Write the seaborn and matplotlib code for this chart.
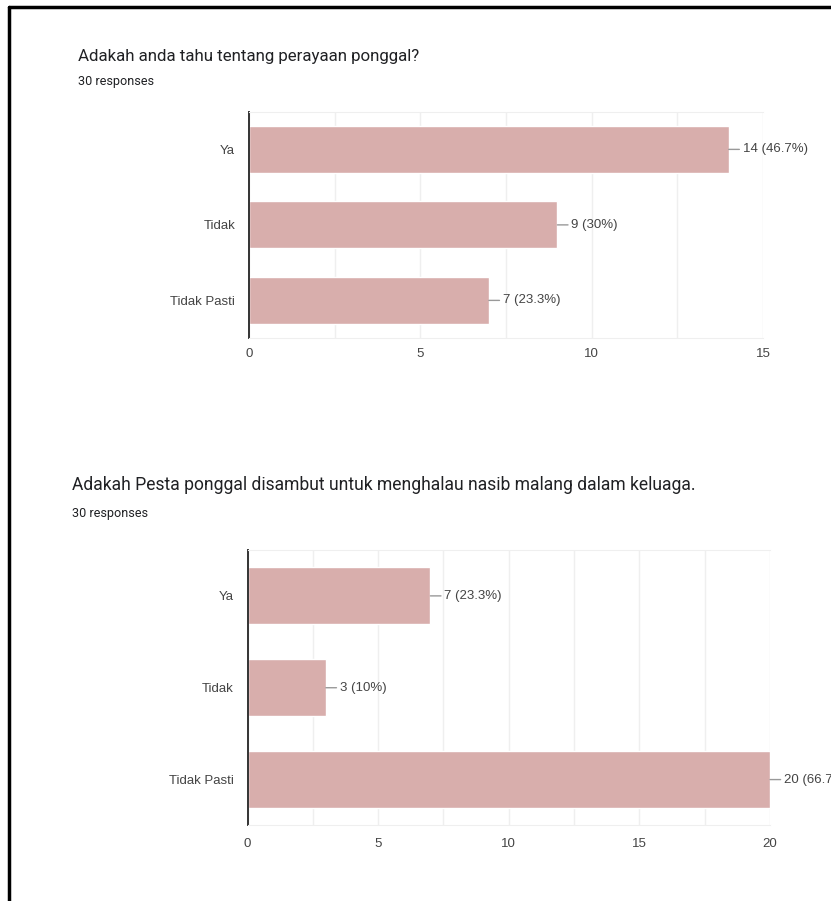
import pandas as pd
import seaborn as sns
import matplotlib.pyplot as plt
from matplotlib.lines import Line2D

# data
categories = ["Ya", "Tidak", "Tidak Pasti"]
counts_q1 = [14, 9, 7]
pct_q1 = ["46.7%", "30%", "23.3%"]
counts_q2 = [7, 3, 20]
pct_q2 = ["23.3%", "10%", "66.7%"]

title_q1 = "Adakah anda tahu tentang perayaan ponggal?"
title_q2 = "Adakah Pesta ponggal disambut untuk menghalau nasib malang dalam keluaga."
n_responses = 30

bar_color = "#d8aeac"
tick_font = ["Liberation Sans", "DejaVu Sans"]
title_font = ["Roboto", "DejaVu Sans"]

sns.set_style("white")
plt.rcParams["font.family"] = tick_font

fig = plt.figure(figsize=(8.31, 9.01), dpi=100)


def draw_chart(rect, counts, pcts, xmax, xpad):
    ax = fig.add_axes(rect)
    df = pd.DataFrame({"answer": categories, "count": counts})
    sns.barplot(data=df, x="count", y="answer", color=bar_color, saturation=1,
                width=0.62, ax=ax)
    ax.set_xlim(0, xmax)
    ax.set_ylim(2.5, -0.5)
    ax.set_xlabel("")
    ax.set_ylabel("")
    ax.set_xticks(range(0, xmax + 1, 5))
    ax.set_xticks([x + 2.5 for x in range(0, xmax, 5)], minor=True)
    ax.grid(axis="x", which="both", color="#efefef", lw=1)
    ax.set_axisbelow(True)
    ax.spines["right"].set_visible(False)
    ax.spines["top"].set_color("#efefef")
    ax.spines["bottom"].set_color("#efefef")
    ax.spines["left"].set_color("#333333")
    ax.spines["left"].set_linewidth(1.4)
    ax.tick_params(axis="both", which="both", length=0, labelsize=9.5, colors="#444444")
    ax.tick_params(axis="x", pad=xpad)
    ax.tick_params(axis="y", pad=10)
    for i, (c, p) in enumerate(zip(counts, pcts)):
        ax.annotate(f"{c} ({p})", xy=(c, i), xytext=(10, 0),
                    textcoords="offset points", va="center", ha="left",
                    fontsize=9.5, color="#444444", annotation_clip=False,
                    arrowprops=dict(arrowstyle="-", color="#999999", lw=1,
                                    shrinkA=0, shrinkB=0))
    return ax


draw_chart([249 / 831, 0.6247, 514 / 831, 0.2514], counts_q1, pct_q1, 15, 7)
draw_chart([247.5 / 831, 0.0838, 522.5 / 831, 0.3058], counts_q2, pct_q2, 20, 9)

# titles and response counts
fig.text(78 / 831, 1 - 56 / 901, title_q1, family=title_font, fontsize=12.2,
         color="#202124", va="center")
fig.text(78 / 831, 1 - 81 / 901, f"{n_responses} responses", family=title_font,
         fontsize=9.1, color="#202124", va="center")
fig.text(72 / 831, 1 - 485 / 901, title_q2, family=title_font, fontsize=12.65,
         color="#202124", va="center")
fig.text(72 / 831, 1 - 513 / 901, f"{n_responses} responses", family=title_font,
         fontsize=9.1, color="#202124", va="center")

# black frame on top and left of the screenshot
fig.add_artist(Line2D([9 / 831, 9 / 831], [0, 1 - 7 / 901], color="black", lw=2.5,
                      transform=fig.transFigure))
fig.add_artist(Line2D([9 / 831, 1], [1 - 7 / 901, 1 - 7 / 901], color="black", lw=2.5,
                      transform=fig.transFigure))

fig.savefig("out.png", dpi=100)
